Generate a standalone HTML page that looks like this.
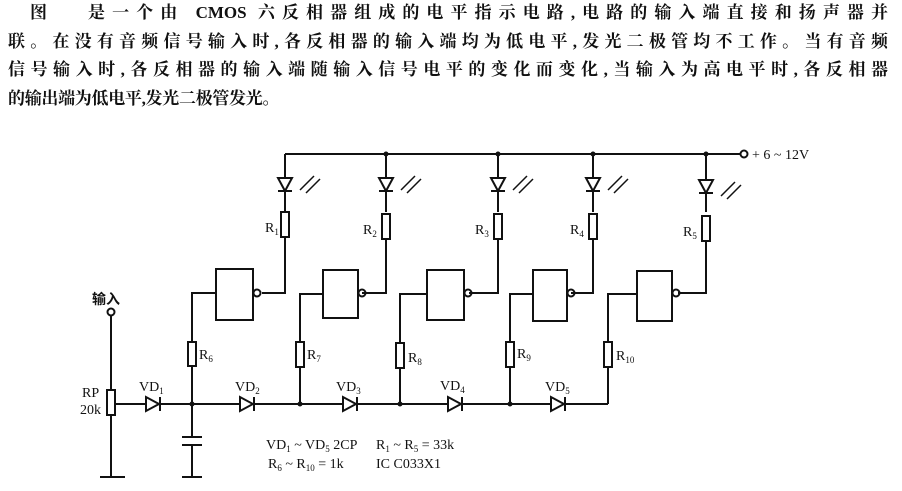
<!DOCTYPE html>
<html><head><meta charset="utf-8"><style>
body{margin:0;background:#fff;width:902px;height:491px;overflow:hidden;position:relative}
.t{position:absolute;font-family:"Liberation Serif","Noto Serif CJK SC","Noto Sans CJK SC",serif;font-size:17px;font-weight:bold;color:#111;white-space:nowrap;line-height:22px}
.j{text-align:justify;text-align-last:justify;left:8px;width:880px}
svg{position:absolute;left:0;top:0}
svg text{font-family:"Liberation Serif","Noto Sans CJK SC",serif;fill:#111}
</style></head><body>
<div class="t" style="left:30px;top:2px">图</div>
<div class="t" style="left:88px;top:2px;width:800px;text-align:justify;text-align-last:justify">是一个由 CMOS 六反相器组成的电平指示电路,电路的输入端直接和扬声器并</div>
<div class="t j" style="top:31px">联。在没有音频信号输入时,各反相器的输入端均为低电平,发光二极管均不工作。当有音频</div>
<div class="t j" style="top:59px">信号输入时,各反相器的输入端随输入信号电平的变化而变化,当输入为高电平时,各反相器</div>
<div class="t" style="left:8px;top:88px;letter-spacing:-0.3px">的输出端为低电平,发光二极管发光。</div>
<svg width="902" height="491" viewBox="0 0 902 491">
<g stroke="#111" stroke-width="2" fill="none">
<line x1="285" y1="154" x2="740" y2="154"/>
<circle cx="744" cy="154" r="3.5" fill="#fff"/>
<path d="M285 154V212M285 237V293H262"/>
<path d="M386 154V212M386 237V293H362"/>
<path d="M498 154V212M498 237V293H469"/>
<path d="M593 154V212M593 237V293H571"/>
<path d="M706 154V212M706 237V293H678"/>
<g fill="#fff">
<path d="M278 178H292L285 191Z"/><path d="M379 178H393L386 191Z"/><path d="M491 178H505L498 191Z"/><path d="M586 178H600L593 191Z"/><path d="M699 180H713L706 193Z"/>
</g>
<path d="M278 191H292M379 191H393M491 191H505M586 191H600M699 193H713"/>
<g stroke-width="1.5">
<path d="M300 190L314 176M306 193L320 179"/><path d="M401 190L415 176M407 193L421 179"/><path d="M513 190L527 176M519 193L533 179"/><path d="M608 190L622 176M614 193L628 179"/><path d="M721 196L735 182M727 199L741 185"/>
</g>
<g fill="#fff">
<rect x="281" y="212" width="8" height="25"/><rect x="382" y="214" width="8" height="25"/><rect x="494" y="214" width="8" height="25"/><rect x="589" y="214" width="8" height="25"/><rect x="702" y="216" width="8" height="25"/>
</g>
<rect x="216" y="269" width="37" height="51"/><circle cx="257" cy="293" r="3.5"/>
<rect x="323" y="270" width="35" height="48"/><circle cx="362" cy="293" r="3.5"/>
<rect x="427" y="270" width="37" height="50"/><circle cx="468" cy="293" r="3.5"/>
<rect x="533" y="270" width="34" height="51"/><circle cx="571" cy="293" r="3.5"/>
<rect x="637" y="271" width="35" height="50"/><circle cx="676" cy="293" r="3.5"/>
<path d="M216 293H192V404M323 294H300V404M427 294H400V404M533 294H510V404M637 294H608V404"/>
<g fill="#fff">
<rect x="188" y="342" width="8" height="24"/><rect x="296" y="342" width="8" height="25"/><rect x="396" y="343" width="8" height="25"/><rect x="506" y="342" width="8" height="25"/><rect x="604" y="342" width="8" height="25"/>
</g>
<path d="M115 404H608"/>
<g fill="#fff">
<path d="M146 397V411L159 404Z"/><path d="M240 397V411L253 404Z"/><path d="M343 397V411L356 404Z"/><path d="M448 397V411L461 404Z"/><path d="M551 397V411L564 404Z"/>
</g>
<path d="M160 397V411M254 397V411M357 397V411M462 397V411M565 397V411"/>
<path d="M111 316V477M100 477H125"/>
<circle cx="111" cy="312" r="3.5" fill="#fff"/>
<rect x="107" y="390" width="8" height="25" fill="#fff"/>
<path d="M192 404V437M182 437H202M182 445H202M192 445V477M182 477H202"/>
</g>
<g fill="#111">
<circle cx="192" cy="404" r="2.5"/><circle cx="300" cy="404" r="2.5"/><circle cx="400" cy="404" r="2.5"/><circle cx="510" cy="404" r="2.5"/>
<circle cx="386" cy="154" r="2.5"/><circle cx="498" cy="154" r="2.5"/><circle cx="593" cy="154" r="2.5"/><circle cx="706" cy="154" r="2.5"/>
</g>
<g font-size="14">
<text x="752" y="159">+ 6 ~ 12V</text>
<text x="265" y="232">R<tspan font-size="9" dy="3">1</tspan></text>
<text x="363" y="234">R<tspan font-size="9" dy="3">2</tspan></text>
<text x="475" y="234">R<tspan font-size="9" dy="3">3</tspan></text>
<text x="570" y="234">R<tspan font-size="9" dy="3">4</tspan></text>
<text x="683" y="236">R<tspan font-size="9" dy="3">5</tspan></text>
<text x="199" y="359">R<tspan font-size="9" dy="3">6</tspan></text>
<text x="307" y="359">R<tspan font-size="9" dy="3">7</tspan></text>
<text x="408" y="362">R<tspan font-size="9" dy="3">8</tspan></text>
<text x="517" y="358">R<tspan font-size="9" dy="3">9</tspan></text>
<text x="616" y="360">R<tspan font-size="9" dy="3">10</tspan></text>
<text x="139" y="391">VD<tspan font-size="9" dy="3">1</tspan></text>
<text x="235" y="391">VD<tspan font-size="9" dy="3">2</tspan></text>
<text x="336" y="391">VD<tspan font-size="9" dy="3">3</tspan></text>
<text x="440" y="390">VD<tspan font-size="9" dy="3">4</tspan></text>
<text x="545" y="391">VD<tspan font-size="9" dy="3">5</tspan></text>
<text x="82" y="397">RP</text>
<text x="80" y="414">20k</text>
<text x="92" y="304" font-size="14" font-weight="bold" font-family="Noto Sans CJK SC,sans-serif">输入</text>
<text x="266" y="449">VD<tspan font-size="9" dy="3">1</tspan><tspan dy="-3"> ~ VD</tspan><tspan font-size="9" dy="3">5</tspan><tspan dy="-3"> 2CP</tspan></text>
<text x="376" y="449">R<tspan font-size="9" dy="3">1</tspan><tspan dy="-3"> ~ R</tspan><tspan font-size="9" dy="3">5</tspan><tspan dy="-3"> = 33k</tspan></text>
<text x="268" y="468">R<tspan font-size="9" dy="3">6</tspan><tspan dy="-3"> ~ R</tspan><tspan font-size="9" dy="3">10</tspan><tspan dy="-3"> = 1k</tspan></text>
<text x="376" y="468">IC C033X1</text>
</g>
</svg>
</body></html>
